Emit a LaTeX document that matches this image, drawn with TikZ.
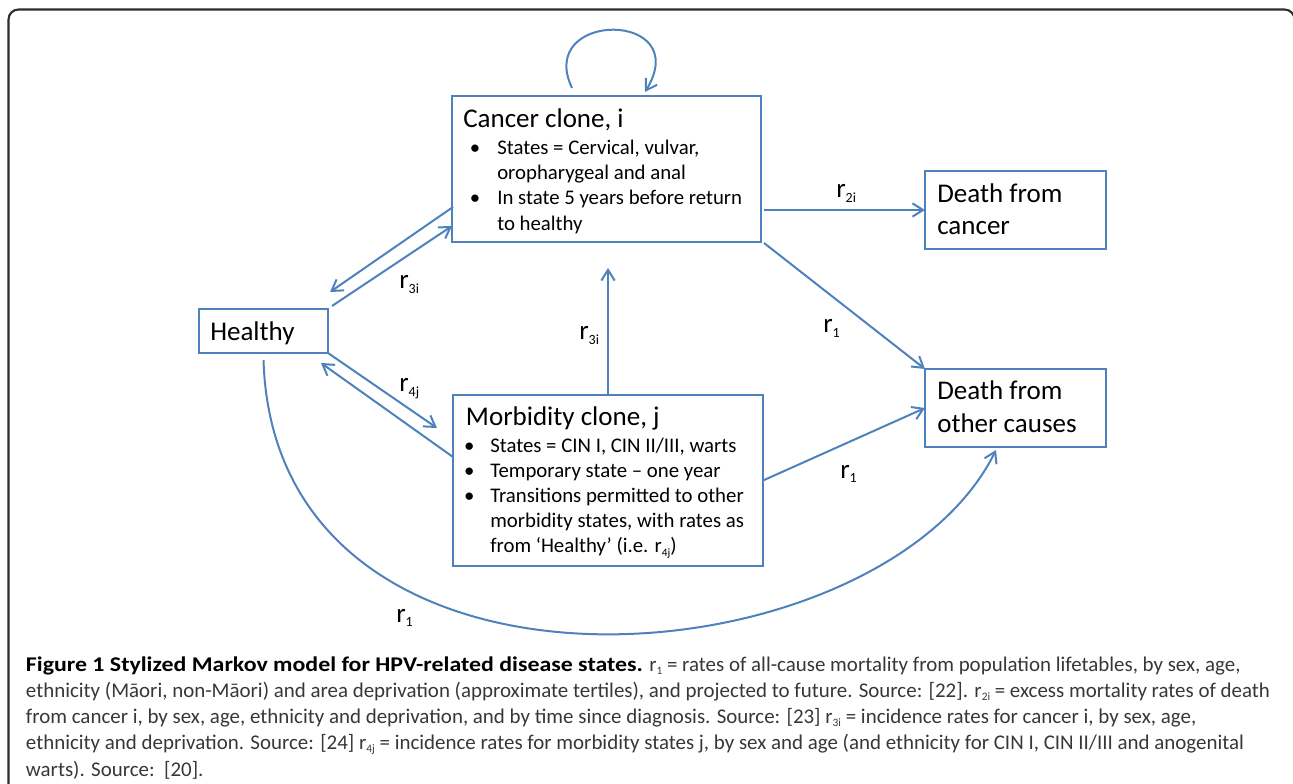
\documentclass[tikz,border=0pt]{standalone}
\usepackage{fontspec}
\setmainfont{Carlito}
\newfontfamily\capfont{Carlito}
\newfontfamily\capbf[FakeStretch=1.14]{Carlito}
\usetikzlibrary{arrows.meta,calc}
\definecolor{mblue}{RGB}{79,129,189}
\definecolor{framecol}{RGB}{45,45,45}
\definecolor{captxt}{RGB}{55,55,55}
\newcommand\lsub[1]{\raisebox{-3.2pt}{\fontsize{10.5pt}{10.5pt}\selectfont #1}}
\newcommand\ssub[1]{\raisebox{-2.6pt}{\fontsize{8.5pt}{8.5pt}\selectfont #1}}
\newcommand\csub[1]{\raisebox{-2.4pt}{\fontsize{8.5pt}{8.5pt}\selectfont #1}}
\begin{document}
\begin{tikzpicture}[x=0.75pt,y=-0.75pt,
  box/.style={draw=mblue,line width=1.4pt,inner sep=0pt,outer sep=0pt,rectangle},
  arr/.style={draw=mblue,line width=1.5pt,-{Straight Barb[length=8pt,width=10pt]}},
  ttl/.style={font=\fontsize{20.25pt}{24.5pt}\selectfont,inner sep=0pt,anchor=base west},
  bl/.style={font=\fontsize{15.6pt}{18.75pt}\selectfont,inner sep=0pt,anchor=base west},
  bul/.style={font=\fontsize{15.6pt}{18.75pt}\selectfont,inner sep=0pt,anchor=base},
  captext/.style={font=\capfont\fontsize{15.7pt}{19.8pt}\selectfont,text=captxt,inner sep=0pt,anchor=base west}]
\useasboundingbox (0,0) rectangle (1293,784);
\clip (0,0) rectangle (1293,784);
\draw[framecol,line width=1.6pt,rounded corners=7.5pt] (8.5,9.5) rectangle (1294.5,830);

% boxes
\node[box,minimum width=231.75pt,minimum height=109.5pt] (cancer) at (606.5,169) {};
\node[box,minimum width=96.75pt,minimum height=33pt] (healthy) at (263.5,331) {};
\node[box,minimum width=232.5pt,minimum height=128.25pt] (morb) at (608,480.5) {};
\node[box,minimum width=135.75pt,minimum height=58.5pt] (dcancer) at (1015.5,210) {};
\node[box,minimum width=135.75pt,minimum height=58.5pt] (other) at (1015.5,408) {};

% cancer text
\node[ttl] (ct) at (463,127.5) {Cancer clone, i};
\node[bul] (cb1) at (475,154.5) {•};
\node[bl] (c1) at (497,154.5) {States = Cervical, vulvar,};
\node[bl] (c2) at (497,179.8) {oropharygeal and anal};
\node[bul] (cb2) at (475,205) {•};
\node[bl] (c3) at (497,205) {In state 5 years before return};
\node[bl] (c4) at (497,230.3) {to healthy};

% morbidity text
\node[ttl] (mt) at (465.7,425.7) {Morbidity clone, j};
\node[bul] (mb1) at (469.3,452.7) {•};
\node[bl] (m1) at (490,452.7) {States = CIN I, CIN II/III, warts};
\node[bul] (mb2) at (469.3,477.7) {•};
\node[bl] (m2) at (490,477.7) {Temporary state – one year};
\node[bul] (mb3) at (469.3,502.7) {•};
\node[bl] (m3) at (490,502.7) {Transitions permitted to other};
\node[bl] (m4) at (490,527.7) {morbidity states, with rates as};
\node[bl] (m5) at (490,552.7) {from ‘Healthy’ (i.e. r\ssub{4j})};

% other texts
\node[ttl] (ht) at (210,340.7) {Healthy};
\node[ttl] (dc1) at (937,202.3) {Death from};
\node[ttl] (dc2) at (937,235) {cancer};
\node[ttl] (do1) at (937,400) {Death from};
\node[ttl] (do2) at (937,432.7) {other causes};

% connectors
\draw[arr] ($(cancer.north)+(-34.5,-8)$) .. controls (535,10) and (695,10) .. ($(cancer.north)+(38.5,-4)$);
\draw[arr] ($(cancer.east |- dcancer.west)+(3,0)$) -- (dcancer.west);
\draw[arr] ($(cancer.south east)+(3,1)$) -- (other.north west);
\draw[arr] (morb.east) -- (other.west);
\draw[arr] (morb.north) -- ($(morb.north |- cancer.south)+(0,26)$);
\draw[arr] ($(healthy.north east)+(4,-3)$) -- ($(cancer.west)+(0,57)$);
\draw[arr] ($(cancer.west)+(1,38)$) -- ($(healthy.north east)+(2,-17)$);
\draw[arr] (healthy.south east) -- ($(morb.west)+(-16,-52.5)$);
\draw[arr] ($(morb.west)+(0,-23.5)$) -- ($(healthy.south east)+(-7,10)$);
\draw[arr] ($(healthy.south)+(0,7)$) .. controls (275,735) and (880,685) .. ($(other.south west)+(71,3)$);

% labels
\node[ttl] (l1) at (399,289) {r\lsub{3i}};
\node[ttl] (l2) at (579,340) {r\lsub{3i}};
\node[ttl] (l3) at (399,392) {r\lsub{4j}};
\node[ttl] (l4) at (836,198) {r\lsub{2i}};
\node[ttl] (l5) at (823,333) {r\lsub{1}};
\node[ttl] (l6) at (840,478) {r\lsub{1}};
\node[ttl] (l7) at (396,622) {r\lsub{1}};

% caption
\node[captext] (cap1) at (25.7,671) {{\capbf\bfseries\color{black}Figure 1 Stylized Markov model for HPV-related disease states.} r\csub{1} = rates of all-cause mortality from population lifetables, by sex, age,};
\node[captext] (cap2) at (25.7,697) {ethnicity (Māori, non-Māori) and area deprivation (approximate tertiles), and projected to future. Source: [22]. r\csub{2i} = excess mortality rates of death};
\node[captext] (cap3) at (25.7,723.3) {from cancer i, by sex, age, ethnicity and deprivation, and by time since diagnosis. Source: [23] r\csub{3i} = incidence rates for cancer i, by sex, age,};
\node[captext] (cap4) at (25.7,749.5) {ethnicity and deprivation. Source: [24] r\csub{4j} = incidence rates for morbidity states j, by sex and age (and ethnicity for CIN I, CIN II/III and anogenital};
\node[captext] (cap5) at (25.7,776.3) {warts). Source:\ \ [20].};
\end{tikzpicture}
\end{document}
